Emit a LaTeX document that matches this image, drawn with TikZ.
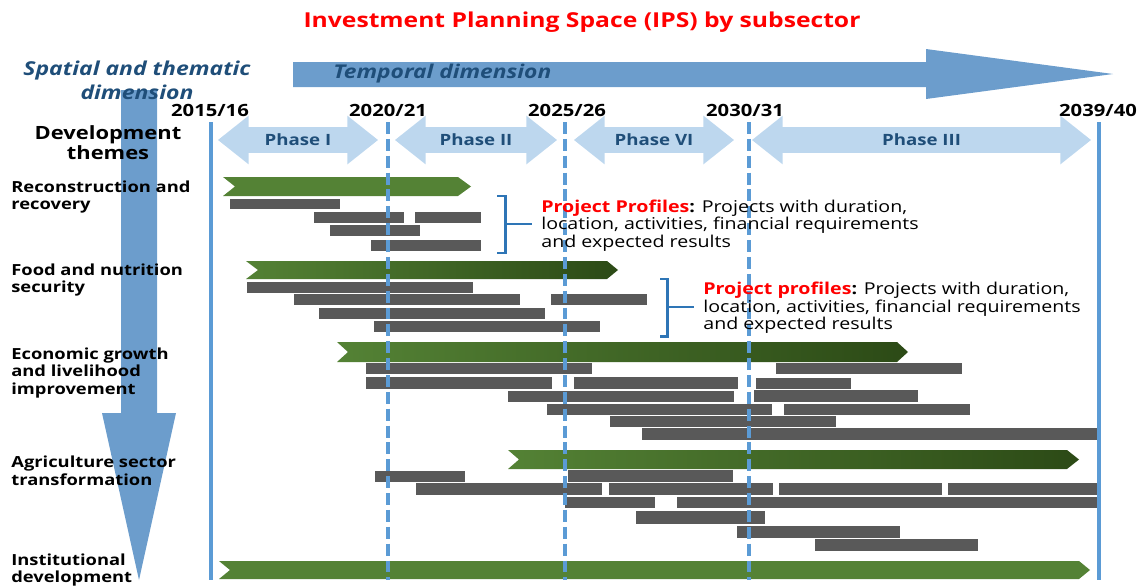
\documentclass[tikz,border=0pt]{standalone}
\usepackage{fontspec}
\setmainfont{Open Sans}[FakeStretch=1.2]
\usetikzlibrary{shapes.arrows}
\definecolor{arrowblue}{RGB}{108,157,204}
\definecolor{phasefill}{RGB}{189,215,238}
\definecolor{navy}{RGB}{31,78,121}
\definecolor{lineblue}{RGB}{91,155,213}
\definecolor{leafgreen}{RGB}{84,130,53}
\definecolor{darkgreen}{RGB}{44,74,22}
\definecolor{bargray}{RGB}{89,89,89}
\definecolor{braceblue}{RGB}{46,117,182}
\begin{document}
\begin{tikzpicture}[x=0.02cm,y=-0.02cm,
    bar/.style={fill=bargray},
    banner/.style={fill=leafgreen},
    fade/.style={left color=leafgreen,right color=darkgreen},
    theme/.style={anchor=west,align=left,inner sep=0pt,font=\bfseries\fontsize{8.7}{10.2}\selectfont},
    year/.style={inner sep=0pt,font=\bfseries\fontsize{9.6}{12}\selectfont},
    phase/.style={double arrow,fill=phasefill,text=navy,font=\bfseries\fontsize{8.85}{12}\selectfont,
        double arrow head extend=0.23cm,double arrow tip angle=77,minimum width=0.96cm,
        text height=0.3cm,text depth=0.1cm,inner ysep=0.05cm,inner xsep=0pt},
    gridline/.style={lineblue,line width=2.8pt,dash pattern=on 6.8pt off 2.8pt},
    profile/.style={anchor=west,align=left,inner sep=0pt,font=\fontsize{9.3}{10}\selectfont},
    bracket/.style={braceblue,line width=1.7pt}]
    \useasboundingbox (0,0) rectangle (1142,585);
    \fill[arrowblue] (293,62) -- (926,62) -- (926,49) -- (1113,74) -- (926,99) -- (926,87) -- (293,87) -- cycle;
    \fill[arrowblue] (121,90) -- (157,90) -- (157,413) -- (176,413) -- (139,580) -- (102,413) -- (121,413) -- cycle;
    \node[text=red,font=\bfseries\fontsize{11.7}{15}\selectfont] (title) at (582,22) {Investment Planning Space (IPS) by subsector};
    \node[anchor=west,inner sep=0pt,text=navy,font=\bfseries\itshape\fontsize{10.8}{14}\selectfont] (temporal) at (333,74) {Temporal dimension};
    \node[align=center,inner sep=0pt,text=navy,font=\bfseries\itshape\fontsize{10.9}{13.7}\selectfont] (spatial) at (137,80) {Spatial and thematic\\dimension};
    \node[year] (y2015) at (210,110) {2015/16};
    \node[year] (y2020) at (388,110) {2020/21};
    \node[year] (y2025) at (567,110) {2025/26};
    \node[year] (y2030) at (745,110) {2030/31};
    \node[year] (y2039) at (1098,110) {2039/40};
    \node[phase,minimum height=3.2cm] (phase1) at (298,140) {Phase I};
    \node[phase,minimum height=3.24cm] (phase2) at (476,140) {Phase II};
    \node[phase,minimum height=3.2cm] (phase6) at (654,140) {Phase VI};
    \node[phase,minimum height=6.78cm] (phase3) at (921.5,140) {Phase III};
    \node[align=center,inner sep=0pt,font=\bfseries\fontsize{10.4}{10.3}\selectfont] (devthemes) at (108,143) {Development\\themes};
    \node[theme] (recon) at (11,197) {Reconstruction and\\recovery};
    \node[theme] (food) at (11,280) {Food and nutrition\\security};
    \node[theme] (econ) at (11,373) {Economic growth\\and livelihood\\improvement};
    \node[theme] (agri) at (11,470.5) {Agriculture sector\\transformation};
    \node[theme] (inst) at (11,570) {Institutional\\development};
    \fill[banner] (223,177) -- (458,177) -- (471,186.5) -- (458,196) -- (223,196) -- (235,186.5) -- cycle;
    \shade[fade] (246,261) -- (607,261) -- (618,270) -- (607,279) -- (246,279) -- (258,270) -- cycle;
    \shade[fade] (337,342) -- (897,342) -- (908,352) -- (897,362) -- (337,362) -- (348,352) -- cycle;
    \shade[fade] (508,450) -- (1067,450) -- (1079,459.5) -- (1067,469) -- (508,469) -- (519,459.5) -- cycle;
    \fill[banner] (219,561) -- (1079,561) -- (1090,570) -- (1079,579) -- (219,579) -- (230,570) -- cycle;
    \fill[bar] (230,199) rectangle (340,209);
    \fill[bar] (314,212) rectangle (404,223);
    \fill[bar] (415,212) rectangle (481,223);
    \fill[bar] (330,225) rectangle (420,236);
    \fill[bar] (371,240) rectangle (481,251);
    \fill[bar] (247,282) rectangle (473,293);
    \fill[bar] (294,294) rectangle (520,305);
    \fill[bar] (551,294) rectangle (647,305);
    \fill[bar] (319,308) rectangle (545,319);
    \fill[bar] (374,321) rectangle (600,332);
    \fill[bar] (366,363) rectangle (592,374);
    \fill[bar] (776,363) rectangle (962,374);
    \fill[bar] (366,377) rectangle (552,389);
    \fill[bar] (574,377) rectangle (738,389);
    \fill[bar] (756,378) rectangle (851,389);
    \fill[bar] (508,391) rectangle (734,402);
    \fill[bar] (754,390) rectangle (918,402);
    \fill[bar] (547,404) rectangle (772,415);
    \fill[bar] (784,404) rectangle (970,415);
    \fill[bar] (610,416) rectangle (836,427);
    \fill[bar] (642,428) rectangle (1097,440);
    \fill[bar] (375,471) rectangle (465,482);
    \fill[bar] (568,470) rectangle (733,482);
    \fill[bar] (416,483) rectangle (602,495);
    \fill[bar] (609,483) rectangle (773,495);
    \fill[bar] (779,483) rectangle (942,495);
    \fill[bar] (948,483) rectangle (1099,495);
    \fill[bar] (565,497) rectangle (655,508);
    \fill[bar] (677,497) rectangle (1099,508);
    \fill[bar] (636,511) rectangle (765,524);
    \fill[bar] (737,526) rectangle (900,538);
    \fill[bar] (815,539) rectangle (978,551);
    \draw[lineblue,line width=2.3pt] (211,122) -- (211,580);
    \draw[lineblue,line width=2.3pt] (1099,122) -- (1099,580);
    \draw[gridline] (388,122) -- (388,580);
    \draw[gridline] (565,122) -- (565,580);
    \draw[gridline] (749,122) -- (749,580);
    \draw[bracket] (497,196) -- (505,196) -- (505,253) -- (497,253) (505,224) -- (532,224);
    \draw[bracket] (660,279) -- (667,279) -- (667,336) -- (660,336) (667,307) -- (694,307);
    \node[profile] (profile1) at (541,225.5) {\textcolor{red}{\textbf{Project Profiles}}\textbf{:} Projects with duration,\\location, activities, financial requirements\\and expected results};
    \node[profile] (profile2) at (703,308) {\textcolor{red}{\textbf{Project profiles}}\textbf{:} Projects with duration,\\location, activities, financial requirements\\and expected results};
\end{tikzpicture}
\end{document}
